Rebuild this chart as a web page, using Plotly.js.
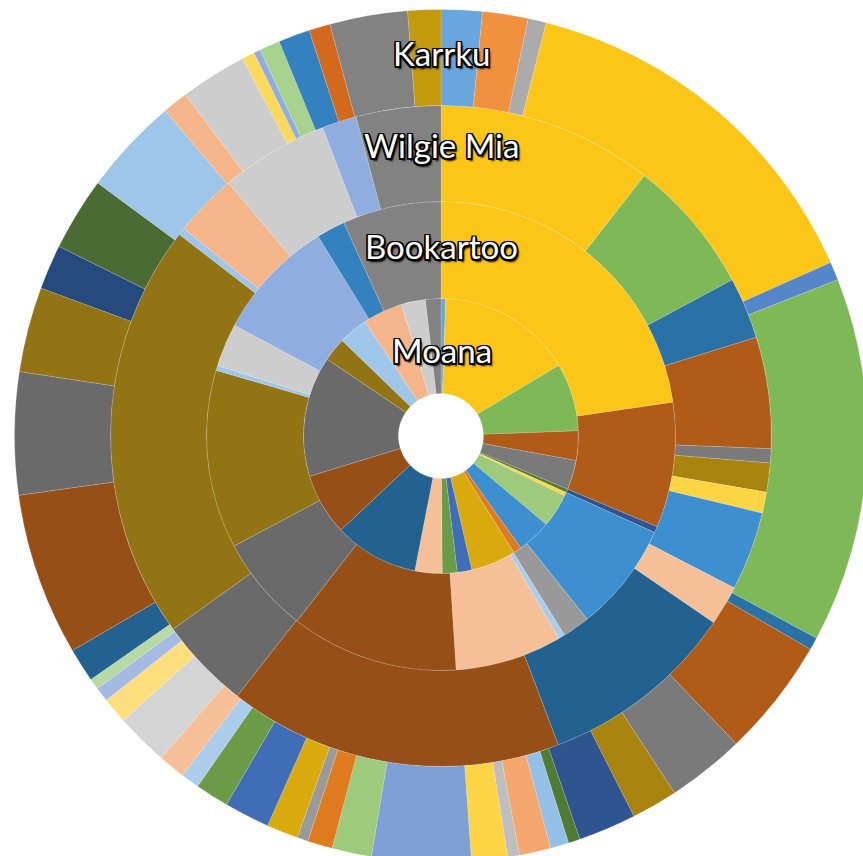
<!DOCTYPE html>
<html>
<head>
<meta charset="utf-8">
<script src="https://cdn.plot.ly/plotly-3.0.1.min.js"></script>
<style>
  html, body { margin: 0; padding: 0; background: #ffffff; overflow: hidden; width: 863px; height: 856px; }
  #chart { position: absolute; left: -9.5px; top: -14.5px; width: 900px; height: 900px; }
</style>
</head>
<body>
<div id="chart"></div>
<script>
// Categories (46 points shared by all four rings, Excel "vary colours by point")
const categories = Array.from({length: 46}, (_, i) => "Item " + (i + 1));

// Ring series names (inner to outer)
const seriesNames = ["Moana", "Bookartoo", "Wilgie Mia", "Karrku"];

// Values (share of each ring, in degrees)
const karrku = [5.6, 6.2, 2.5, 51.7, 2.5, 49.8, 1.7, 16.2, 10.6, 6.3, 7.9, 1.6, 2.5, 4.3, 1.6, 4.9,
  13.5, 5.4, 0, 3.4, 1.5, 4.3, 6.2, 4.6, 2.5, 3.7, 7.2, 3.5, 2.0, 1.5, 4.6, 22.2, 16.7, 11.6, 6.1,
  10.0, 13.3, 3.5, 9.1, 1.7, 0.9, 2.8, 4.3, 2.9, 10.6, 4.5];

const wilgieMia = [0, 0, 0, 38, 0, 23.8, 10.8, 19.6, 2.5, 5.1, 0, 0, 0, 0, 0, 3.7,
  0, 0, 13.9, 0, 0, 0, 0, 0, 0, 7.0, 0, 0, 0, 0, 34.8, 58.9, 16.1, 73.4, 0,
  0, 1.3, 11.1, 19.0, 0, 6.1, 0, 0, 0, 14.9, 0];

const bookartoo = [0, 0, 0, 81.7, 0, 0, 0, 31.1, 0, 0, 1.5, 0, 0, 0, 0, 0,
  0, 0, 27.1, 0, 6.8, 0, 0, 0, 1.6, 26.5, 0, 0, 0, 0, 0, 41.6, 24.1, 44.3, 0,
  0, 1.2, 0, 10.7, 0, 30.2, 0, 7.1, 0, 24.5, 0];

const moana = [2.0, 0, 0, 57, 0, 28.8, 0, 12.5, 12.5, 0, 0, 1.5, 0, 0, 0, 1.5,
  0, 14.2, 14.5, 3.5, 0, 19, 6.2, 6.3, 0, 11.5, 0, 0, 0, 0, 35.8, 26.2, 51, 10, 0,
  0, 12.4, 16.9, 10.2, 0, 0, 0, 0, 0, 6.5, 0];

// Point colours
const pointColors = ["#69A6DD", "#F0913F", "#ABABAB", "#FBC617", "#5586C9", "#7FB957", "#2A72A6", "#B05B17",
  "#7A7A7A", "#A8840F", "#2F5591", "#4F7B35", "#92C0E6", "#F3A76E", "#BEBEBE", "#FDD444",
  "#7EA0D6", "#9DCA7B", "#3D8FCF", "#E07A1F", "#999999", "#D9AA0D", "#3F6DB6", "#6A9C48",
  "#AACDEB", "#F5BF97", "#D4D4D4", "#FDDE7C", "#A5BAE3", "#B7D9A3", "#236290", "#965017",
  "#6A6A6A", "#927415", "#264A7E", "#4A6B33", "#9DC6E8", "#F3B589", "#CDCDCD", "#FCD85B",
  "#8FAEDF", "#A7D28D", "#3481BF", "#D2691C", "#828282", "#C29A0C"];

// Geometry (pixels in the 900x900 plot box)
const S = 900;
const radii = [42.5, 137.5, 234.5, 330.5, 426.5];
const ringData = [moana, bookartoo, wilgieMia, karrku];

const traces = ringData.map((vals, k) => {
  const labels = [], values = [], colors = [];
  vals.forEach((v, i) => { if (v > 0) { labels.push(categories[i]); values.push(v); colors.push(pointColors[i]); } });
  const R = radii[k + 1];
  const r = radii[k];
  return {
    type: "pie",
    name: seriesNames[k],
    labels: labels,
    values: values,
    marker: { colors: colors, line: { color: "rgba(255,255,255,0.3)", width: 0.5 } },
    hole: r / R,
    sort: false,
    direction: "clockwise",
    rotation: 0,
    textinfo: "none",
    hoverinfo: "label+value+name",
    showlegend: false,
    domain: { x: [0.5 - R / S, 0.5 + R / S], y: [0.5 - R / S, 0.5 + R / S] }
  };
});

// Series name labels at the top of each ring
const labelY = [349, 246, 144, 52]; // window pixel centres
const shadow = "-1.5px -1.5px 0 #000, 1.5px -1.5px 0 #000, -1.5px 1.5px 0 #000, 1.5px 1.5px 0 #000, 0 1.5px 0 #000, 0 -1.5px 0 #000, 1.5px 0 0 #000, -1.5px 0 0 #000, 2px 2.5px 2px #000";
const annotations = seriesNames.map((n, k) => ({
  text: n,
  xref: "paper", yref: "paper",
  x: (441 + 9.5) / S,
  y: 1 - (labelY[k] + 14.5) / S,
  xanchor: "center", yanchor: "middle",
  showarrow: false,
  font: { family: "Lato, 'Open Sans', sans-serif", size: 33, color: "#ffffff", shadow: shadow }
}));

Plotly.newPlot("chart", traces, {
  width: S, height: S,
  margin: { l: 0, r: 0, t: 0, b: 0 },
  paper_bgcolor: "#ffffff",
  plot_bgcolor: "#ffffff",
  showlegend: false,
  annotations: annotations
}, { displayModeBar: false, staticPlot: true });
</script>
</body>
</html>
